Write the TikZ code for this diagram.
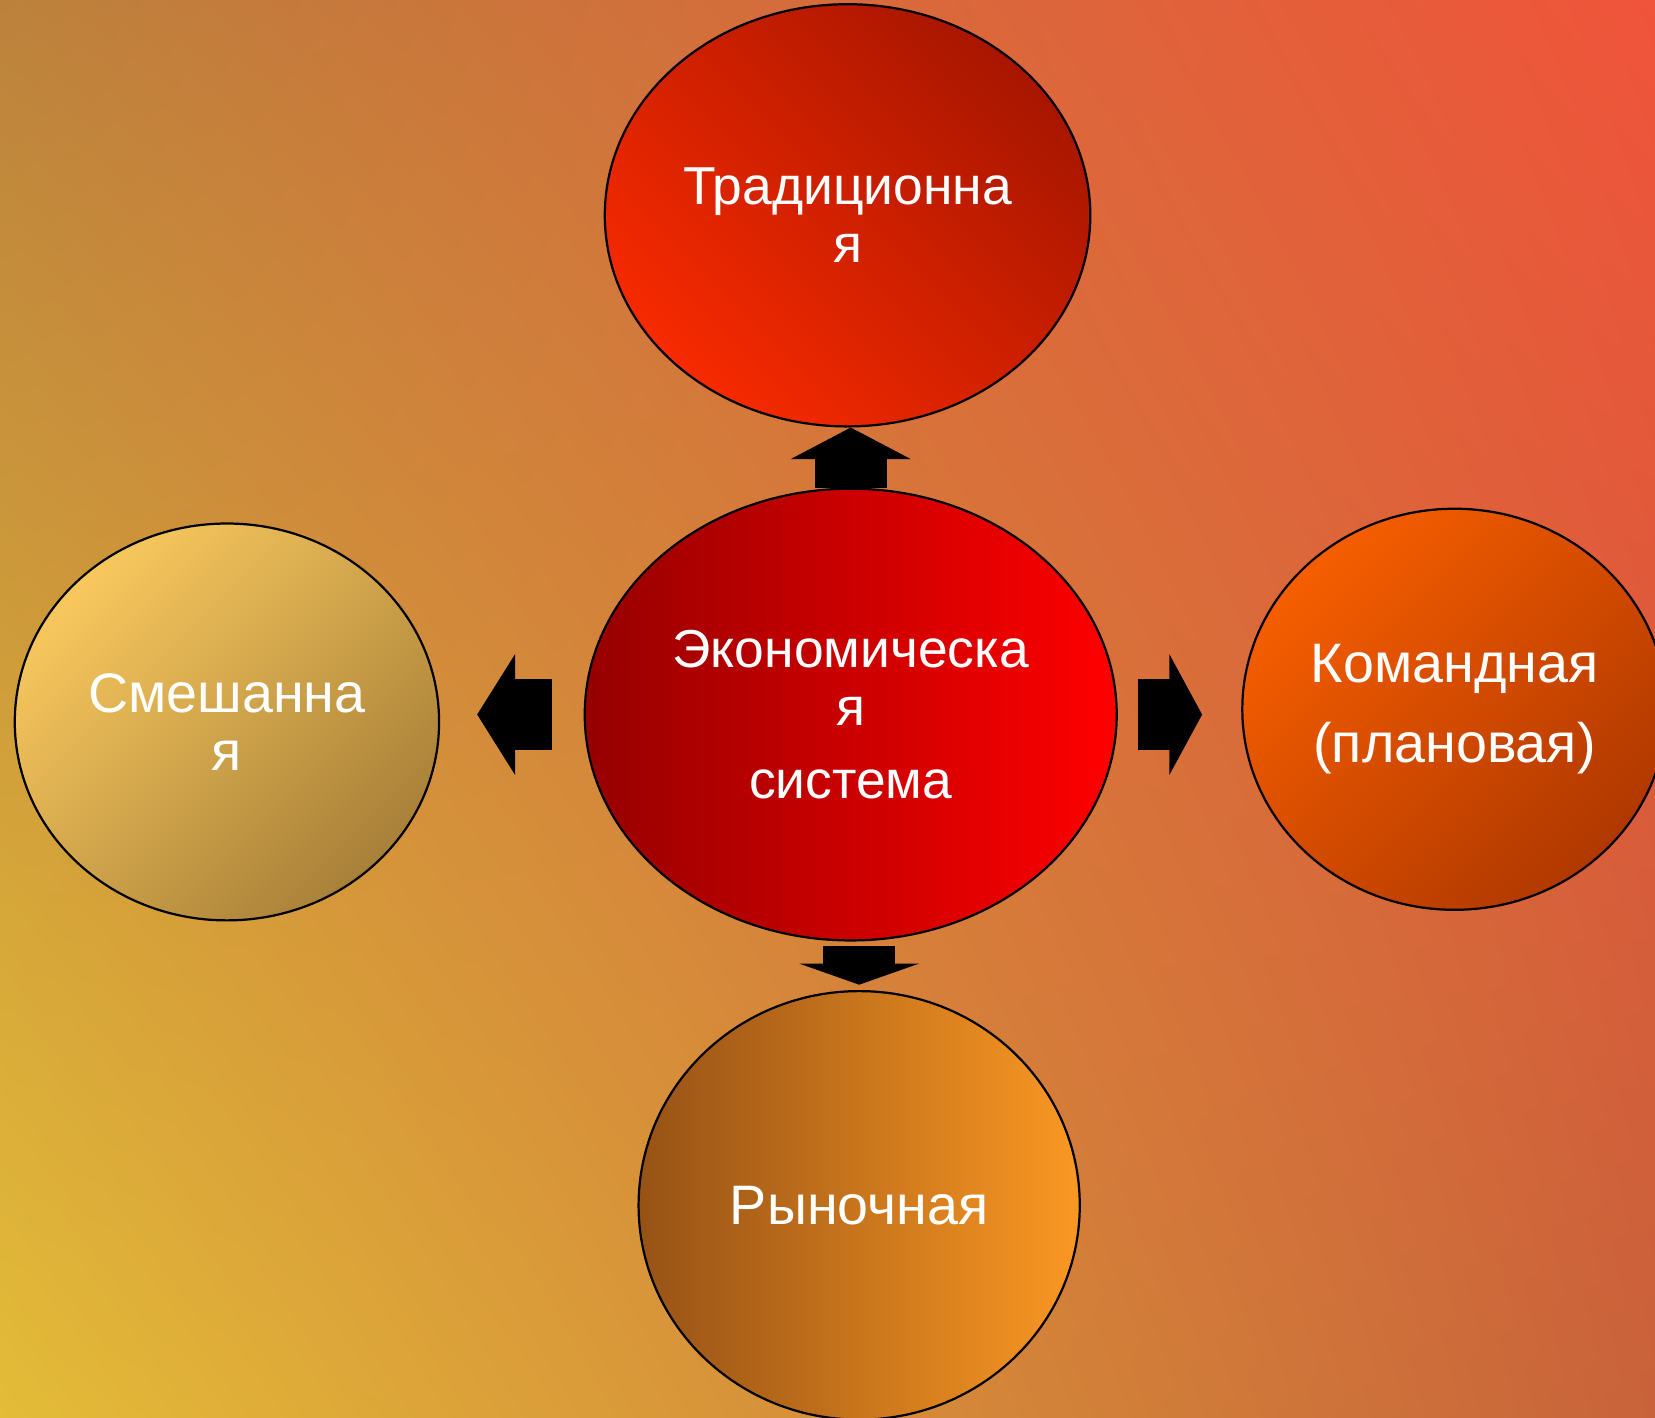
\documentclass[tikz,border=0pt]{standalone}
\usepackage{fontspec}
\setmainfont{Liberation Sans}
\usetikzlibrary{arrows.meta, shapes.geometric, shadings}

\def \headwidth {1.13cm}
\def \shaftwidth {0.68cm}

\definecolor{bgtl}{RGB}{188,130,60}
\definecolor{bgtr}{RGB}{240,84,58}
\definecolor{bgbl}{RGB}{228,188,56}
\definecolor{bgbr}{RGB}{200,98,58}

\tikzset{
  bubble/.style={draw=black, line width=0.6pt, ellipse, inner sep=0pt, align=center,
    text=white, font=\fontsize{15pt}{15.6pt}\selectfont},
  smalltext/.style={font=\fontsize{14.4pt}{15.6pt}\selectfont},
  blockarrow/.style={line width=\shaftwidth, -{Triangle[width=\headwidth, length=#1]}},
}

\begin{document}
\begin{tikzpicture}
\useasboundingbox (0,0) rectangle (15.68,-13.43);
\shade[upper left=bgtl, upper right=bgtr, lower left=bgbl, lower right=bgbr] (0,0) rectangle (15.68,-13.43);

\node (trad) at (8.03,-2.04) [bubble, smalltext, minimum width=4.60cm, minimum height=4.00cm,
  top color={rgb,255:red,168;green,22;blue,0}, bottom color={rgb,255:red,247;green,42;blue,0}, shading angle=-45]
  {Традиционна\\я}; % top
\node (econ) at (8.06,-6.77) [bubble, smalltext, minimum width=5.04cm, minimum height=4.28cm,
  left color={rgb,255:red,150;green,0;blue,0}, right color={rgb,255:red,255;green,0;blue,0}]
  {Экономическа\\я\\[3.9pt]система}; % centre
\node (mixed) at (2.15,-6.84) [bubble, minimum width=4.02cm, minimum height=3.76cm,
  top color={rgb,255:red,248;green,200;blue,94}, bottom color={rgb,255:red,168;green,128;blue,56}, shading angle=45]
  {Смешанна\\я}; % left
\node (cmd) at (13.78,-6.72) [bubble, minimum width=4.02cm, minimum height=3.80cm,
  top color={rgb,255:red,246;green,94;blue,0}, bottom color={rgb,255:red,176;green,56;blue,0}, shading angle=45]
  {Командная\\[6pt](плановая)}; % right
\node (market) at (8.14,-11.42) [bubble, minimum width=4.18cm, minimum height=4.06cm,
  left color={rgb,255:red,150;green,82;blue,22}, right color={rgb,255:red,250;green,152;blue,35}]
  {Рыночная}; % bottom

\draw[blockarrow=0.30cm] (econ.north) -- (econ.north |- trad.south);
\draw[blockarrow=0.36cm, shorten <=0.30cm, shorten >=0.35cm] (econ.west) -- (econ.west -| mixed.east);
\draw[blockarrow=0.31cm, shorten <=0.19cm, shorten >=0.37cm] (econ.east) -- (econ.east -| cmd.west);
\draw[blockarrow=0.20cm, shorten <=0.04cm, shorten >=0.05cm] (market.north |- econ.south) -- (market.north);
\end{tikzpicture}
\end{document}
